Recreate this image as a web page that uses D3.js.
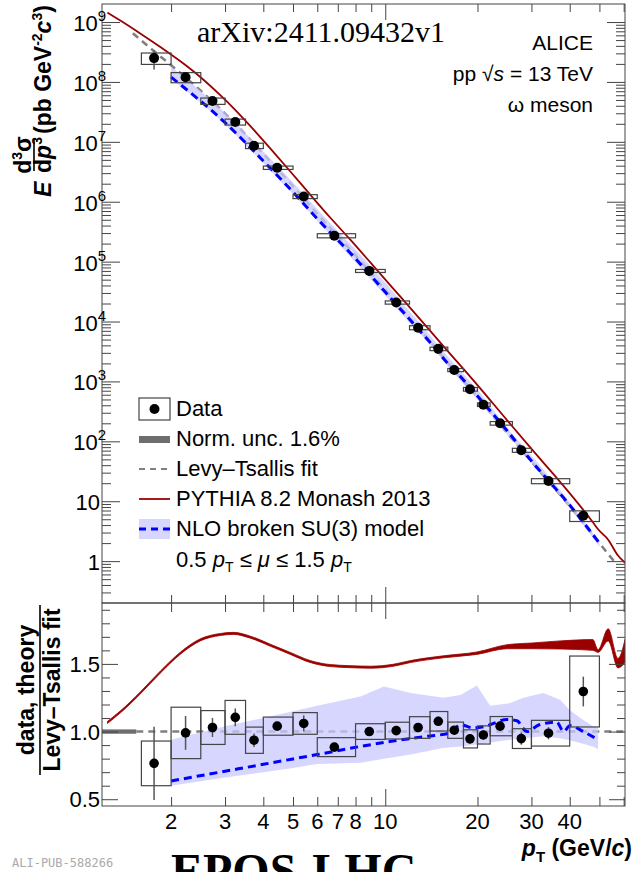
<!DOCTYPE html>
<html lang="en">
<head>
<meta charset="UTF-8">
<title>omega meson spectrum, pp 13 TeV</title>
<script src="https://d3js.org/d3.v7.min.js"></script>
<style>
  body { margin: 0; background: #fff; }
  svg { display: block; font-family: "Liberation Sans", Arial, sans-serif; }
  .axis line { stroke: #444; }
  .axis .domain { display: none; }
</style>
</head>
<body>
<svg width="633" height="872"></svg>
<script>
// ---- data: omega spectrum ----
const ptData    = [1.76, 2.23, 2.73, 3.24, 3.73, 4.44, 5.42, 6.82, 8.87, 10.86, 12.8, 14.9, 16.8, 18.9, 20.9, 23.7, 27.8, 34.1, 44.3];
const binLo     = [1.6, 2, 2.5, 3, 3.5, 4, 5, 6, 8, 10, 12, 14, 16, 18, 20, 22, 26, 30, 40];
const binHi     = [2, 2.5, 3, 3.5, 4, 5, 6, 8, 10, 12, 14, 16, 18, 20, 22, 26, 30, 40, 50];
const yieldVal  = [2.5e8, 1.2e8, 4.8e7, 2.15e7, 8.6e6, 3.7e6, 1.22e6, 2.71e5, 7.0e4, 2.08e4, 7.9e3, 3.5e3, 1.55e3, 7.4e2, 4.1e2, 2.0e2, 71, 21.7, 5.75];
const ratioVal  = [0.765, 0.99, 1.03, 1.105, 0.936, 1.04, 1.06, 0.885, 1.0, 1.007, 1.03, 1.076, 1.01, 0.946, 0.975, 1.04, 0.948, 0.988, 1.296];
const ratioSys  = [0.165, 0.19, 0.125, 0.125, 0.097, 0.067, 0.08, 0.07, 0.058, 0.062, 0.08, 0.072, 0.06, 0.067, 0.067, 0.071, 0.073, 0.095, 0.262];
const ratioStat = [0.27, 0.125, 0.07, 0.066, 0.05, 0.03, 0.06, 0.025, 0.02, 0.025, 0.03, 0.035, 0.025, 0.035, 0.035, 0.035, 0.045, 0.045, 0.11];

// Levy-Tsallis fit
const fitPt  = [1.5, 1.76, 2, 2.5, 3, 3.5, 4, 5, 6, 8, 10, 12, 14, 16, 18, 20, 25, 30, 40, 50, 57];
const fitVal = [6.5e8, 3.25e8, 1.9e8, 7.1e7, 2.95e7, 1.32e7, 6.3e6, 1.82e6, 6.3e5, 1.26e5, 3.4e4, 1.15e4, 4.7e3, 2.05e3, 1.02e3, 5.5e2, 1.38e2, 46, 8.3, 2.0, 0.87];

// PYTHIA 8.2 Monash 2013
const pyPt      = [1.24, 1.37, 1.59, 1.85, 2.14, 2.49, 2.90, 3.19, 3.63, 4.22, 4.90, 5.69, 6.62, 7.69, 8.94, 10.6, 12.1, 15.5, 19.9, 25.0, 30.3, 37.2, 47.6, 49.5, 53.4, 57.5, 60.6];
const pyVal     = [1.44e9, 1.05e9, 6.4e8, 3.8e8, 2.23e8, 1.21e8, 5.96e7, 3.7e7, 1.83e7, 7.7e6, 3.2e6, 1.31e6, 5.4e5, 2.33e5, 9.7e4, 3.58e4, 1.66e4, 3.86e3, 8.95e2, 2.24e2, 70.5, 21.1, 4.46, 3.4, 2.28, 1.24, 0.94];
const pyRatioLo = [1.06, 1.14, 1.28, 1.435, 1.57, 1.67, 1.71, 1.718, 1.69, 1.63, 1.57, 1.51, 1.48, 1.472, 1.468, 1.482, 1.51, 1.545, 1.57, 1.612, 1.612, 1.61, 1.60, 1.585, 1.67, 1.47, 1.51];
const pyRatioHi = [1.075, 1.155, 1.295, 1.45, 1.585, 1.685, 1.725, 1.733, 1.705, 1.645, 1.585, 1.525, 1.495, 1.487, 1.483, 1.497, 1.525, 1.56, 1.588, 1.642, 1.655, 1.67, 1.68, 1.605, 1.76, 1.54, 1.68];

// NLO broken SU(3), spectrum panel
const nloPt  = [2, 3, 4, 5, 6, 8, 10, 12, 14, 16, 18, 20, 25, 30, 40, 50];
const nloVal = [1.2e8, 2.09e7, 4.8e6, 1.45e6, 5.2e5, 1.12e5, 3.1e4, 1.09e4, 4.5e3, 2.0e3, 1.06e3, 5.7e2, 150, 47, 8.6, 2.0];
const nloLo  = [1.14e8, 1.95e7, 4.4e6, 1.33e6, 4.8e5, 9.7e4, 2.72e4, 9.5e3, 4.1e3, 1.8e3, 9.1e2, 5.0e2, 130, 44, 7.8, 1.74];
const nloHi  = [1.79e8, 3.07e7, 6.9e6, 2.09e6, 7.5e5, 1.59e5, 4.5e4, 1.48e4, 5.9e3, 2.6e3, 1.33e3, 7.3e2, 167, 58, 9.6, 2.06];

// NLO broken SU(3), ratio panel
const nloRPt    = [2.0, 3.0, 4.0, 5.0, 6.0, 8.3, 10.6, 13.7, 16.3, 17.6, 19.4, 21.3, 25.0, 26.9, 29.0, 31.8, 36.3, 38.2, 40.1, 44.3, 49.5];
const nloRatio  = [0.635, 0.707, 0.758, 0.798, 0.83, 0.89, 0.93, 0.965, 0.99, 1.05, 1.027, 1.04, 1.09, 1.08, 1.0, 1.05, 1.07, 1.0, 1.044, 1.0, 0.94];
const nloBandPt = [2.0, 3.0, 4.0, 5.0, 6.0, 8.3, 9.9, 12.1, 15.5, 17.6, 19.9, 22.0, 25.5, 28.2, 32.8, 37.2, 40, 43.3, 47.6, 49.5];
const nloBandLo = [0.60, 0.66, 0.70, 0.73, 0.76, 0.77, 0.80, 0.83, 0.88, 0.89, 0.905, 0.92, 0.94, 0.95, 0.965, 0.95, 0.935, 0.915, 0.89, 0.87];
const nloBandHi = [0.94, 1.04, 1.10, 1.15, 1.19, 1.26, 1.333, 1.285, 1.25, 1.27, 1.34, 1.19, 1.21, 1.25, 1.285, 1.235, 1.16, 1.10, 1.04, 1.03];

const normUnc = 0.016;
const normSpan = [1.19, 1.54];
const refSpan = [1.54, 60.6];

const xTickLabels = [2, 3, 4, 5, 6, 7, 8, 10, 20, 30, 40];
const xMinor = [2, 3, 4, 5, 6, 7, 8, 9, 20, 30, 40, 50, 60];
const xMajor = [10];
const yTopMajor = [1, 1e1, 1e2, 1e3, 1e4, 1e5, 1e6, 1e7, 1e8, 1e9];
const yBotMajor = [0.5, 1.0, 1.5];
const yBotMinor = [0.6, 0.7, 0.8, 0.9, 1.1, 1.2, 1.3, 1.4, 1.6, 1.7, 1.8, 1.9];

// ---- layout ----
const L = 102, R = 625, T = 4, M = 603, B = 806;
const svg = d3.select('svg');

const x = d3.scaleLog().domain([1.19, 60.6]).range([L, R]);
const yTop = d3.scaleLog().domain([0.2, 2e9]).range([M, T]);
const yBot = d3.scaleLinear().domain([0.45, 1.95]).range([B, M]);

const yTopMinor = [];
for (let k = -1; k <= 9; k++) for (let m = 2; m <= 9; m++) {
  const v = m * Math.pow(10, k);
  if (v > 0.2 && v < 2e9) yTopMinor.push(v);
}

const defs = svg.append('defs');
defs.append('clipPath').attr('id', 'clipTop').append('rect')
  .attr('x', L).attr('y', T).attr('width', R - L).attr('height', M - T);
defs.append('clipPath').attr('id', 'clipBot').append('rect')
  .attr('x', L).attr('y', M).attr('width', R - L).attr('height', B - M);

const pts = ptData.map((p, i) => ({
  p, lo: binLo[i], hi: binHi[i], y: yieldVal[i],
  r: ratioVal[i], sys: ratioSys[i], st: ratioStat[i]
}));

const RED = '#9b0000', BLUE = '#0000ff', BAND = '#c8c8ff', GREY = '#808080';

// ================= top panel =================
const gTop = svg.append('g').attr('clip-path', 'url(#clipTop)');

const lineTop = d3.line().x(d => x(d[0])).y(d => yTop(d[1])).curve(d3.curveMonotoneX);

gTop.append('path')
  .attr('d', lineTop(d3.zip(fitPt, fitVal)))
  .attr('fill', 'none').attr('stroke', GREY).attr('stroke-width', 2.6)
  .attr('stroke-dasharray', '7,5');

gTop.append('path')
  .attr('d', d3.area().x(d => x(d[0])).y0(d => yTop(d[1])).y1(d => yTop(d[2]))
    .curve(d3.curveMonotoneX)(d3.zip(nloPt, nloLo, nloHi)))
  .attr('fill', BAND).attr('fill-opacity', 0.75);

gTop.append('path')
  .attr('d', lineTop(d3.zip(nloPt, nloVal)))
  .attr('fill', 'none').attr('stroke', BLUE).attr('stroke-width', 3)
  .attr('stroke-dasharray', '8,5');

gTop.append('path')
  .attr('d', lineTop(d3.zip(pyPt, pyVal)))
  .attr('fill', 'none').attr('stroke', RED).attr('stroke-width', 1.8);

gTop.selectAll('rect.sys').data(pts).join('rect').attr('class', 'sys')
  .attr('x', d => x(d.lo)).attr('width', d => x(d.hi) - x(d.lo))
  .attr('y', d => yTop(d.y * (1 + d.sys / d.r)))
  .attr('height', d => yTop(d.y * (1 - d.sys / d.r)) - yTop(d.y * (1 + d.sys / d.r)))
  .attr('fill', 'none').attr('stroke', '#444').attr('stroke-width', 1.2);

gTop.selectAll('line.stat').data(pts).join('line').attr('class', 'stat')
  .attr('x1', d => x(d.p)).attr('x2', d => x(d.p))
  .attr('y1', d => yTop(d.y * (1 + d.st / d.r))).attr('y2', d => yTop(d.y * (1 - d.st / d.r)))
  .attr('stroke', '#555').attr('stroke-width', 1.5);

gTop.selectAll('circle').data(pts).join('circle')
  .attr('cx', d => x(d.p)).attr('cy', d => yTop(d.y)).attr('r', 5)
  .attr('fill', '#000');

// ================= ratio panel =================
const gBot = svg.append('g').attr('clip-path', 'url(#clipBot)');
const lineBot = d3.line().x(d => x(d[0])).y(d => yBot(d[1])).curve(d3.curveMonotoneX);

gBot.append('rect')
  .attr('x', x(normSpan[0])).attr('width', x(normSpan[1]) - x(normSpan[0]))
  .attr('y', yBot(1 + normUnc)).attr('height', yBot(1 - normUnc) - yBot(1 + normUnc))
  .attr('fill', '#6e6e6e');

gBot.append('line')
  .attr('x1', x(refSpan[0])).attr('x2', x(refSpan[1]))
  .attr('y1', yBot(1)).attr('y2', yBot(1))
  .attr('stroke', GREY).attr('stroke-width', 2.4).attr('stroke-dasharray', '7,5');

gBot.append('path')
  .attr('d', d3.area().x(d => x(d[0])).y0(d => yBot(d[1])).y1(d => yBot(d[2]))
    .curve(d3.curveLinear)(d3.zip(nloBandPt, nloBandLo, nloBandHi)))
  .attr('fill', BAND).attr('fill-opacity', 0.75);

gBot.append('path')
  .attr('d', lineBot(d3.zip(nloRPt, nloRatio)))
  .attr('fill', 'none').attr('stroke', BLUE).attr('stroke-width', 3)
  .attr('stroke-dasharray', '8,5');

gBot.append('path')
  .attr('d', d3.area().x(d => x(d[0])).y0(d => yBot(d[1])).y1(d => yBot(d[2]))
    .curve(d3.curveMonotoneX)(d3.zip(pyPt, pyRatioLo, pyRatioHi)))
  .attr('fill', RED).attr('stroke', RED).attr('stroke-width', 0.8);

gBot.selectAll('rect.sys').data(pts).join('rect').attr('class', 'sys')
  .attr('x', d => x(d.lo)).attr('width', d => x(d.hi) - x(d.lo))
  .attr('y', d => yBot(d.r + d.sys)).attr('height', d => yBot(d.r - d.sys) - yBot(d.r + d.sys))
  .attr('fill', 'none').attr('stroke', '#444').attr('stroke-width', 1.2);

gBot.selectAll('line.stat').data(pts).join('line').attr('class', 'stat')
  .attr('x1', d => x(d.p)).attr('x2', d => x(d.p))
  .attr('y1', d => yBot(d.r + d.st)).attr('y2', d => yBot(d.r - d.st))
  .attr('stroke', '#555').attr('stroke-width', 1.5);

gBot.selectAll('circle').data(pts).join('circle')
  .attr('cx', d => x(d.p)).attr('cy', d => yBot(d.r)).attr('r', 4.8)
  .attr('fill', '#000');

// ================= axes =================
function addAxis(axis, tx, ty) {
  svg.append('g').attr('class', 'axis').attr('transform', `translate(${tx},${ty})`)
    .call(axis.tickSizeOuter(0).tickFormat(''));
}
// x axes
addAxis(d3.axisTop(x).tickValues(xMajor).tickSize(-16), 0, T);
addAxis(d3.axisTop(x).tickValues(xMinor).tickSize(-8), 0, T);
addAxis(d3.axisBottom(x).tickValues(xMajor).tickSize(-16), 0, M);
addAxis(d3.axisBottom(x).tickValues(xMinor).tickSize(-8), 0, M);
addAxis(d3.axisTop(x).tickValues(xMajor).tickSize(-16), 0, M);
addAxis(d3.axisTop(x).tickValues(xMinor).tickSize(-9), 0, M);
addAxis(d3.axisBottom(x).tickValues(xMajor).tickSize(-17), 0, B);
addAxis(d3.axisBottom(x).tickValues(xMinor).tickSize(-9), 0, B);
// y axes, top panel
addAxis(d3.axisLeft(yTop).tickValues(yTopMajor).tickSize(-18), L, 0);
addAxis(d3.axisLeft(yTop).tickValues(yTopMinor).tickSize(-9), L, 0);
addAxis(d3.axisRight(yTop).tickValues(yTopMajor).tickSize(-18), R, 0);
addAxis(d3.axisRight(yTop).tickValues(yTopMinor).tickSize(-9), R, 0);
// y axes, ratio panel
addAxis(d3.axisLeft(yBot).tickValues(yBotMajor).tickSize(-16), L, 0);
addAxis(d3.axisLeft(yBot).tickValues(yBotMinor).tickSize(-8), L, 0);
addAxis(d3.axisRight(yBot).tickValues(yBotMajor).tickSize(-16), R, 0);
addAxis(d3.axisRight(yBot).tickValues(yBotMinor).tickSize(-8), R, 0);

// frames
svg.append('rect').attr('x', L).attr('y', T).attr('width', R - L).attr('height', M - T)
  .attr('fill', 'none').attr('stroke', '#444');
svg.append('rect').attr('x', L).attr('y', M).attr('width', R - L).attr('height', B - M)
  .attr('fill', 'none').attr('stroke', '#444');

// tick labels
const FS = 22;
svg.append('g').selectAll('text').data(xTickLabels).join('text')
  .attr('x', d => x(d)).attr('y', 829).attr('text-anchor', 'middle')
  .attr('font-size', FS).text(d => d);

const yLab = svg.append('g').selectAll('text').data(yTopMajor).join('text')
  .attr('x', d => d < 100 ? 100 : 106).attr('y', d => yTop(d) + 9)
  .attr('text-anchor', 'end').attr('font-size', FS);
yLab.each(function(d) {
  const t = d3.select(this);
  const e = Math.round(Math.log10(d));
  if (e <= 1) { t.text(d); return; }
  t.append('tspan').text('10');
  t.append('tspan').attr('font-size', 15).attr('dy', -10).text(e);
});

svg.append('g').selectAll('text').data(yBotMajor).join('text')
  .attr('x', 100).attr('y', d => yBot(d) + 8).attr('text-anchor', 'end')
  .attr('font-size', FS).text(d => d.toFixed(1));

// axis titles
const yt = svg.append('g').attr('transform', 'translate(51,197) rotate(-90)')
  .attr('font-size', 23).attr('font-weight', 'bold');
yt.append('text').attr('x', 0).attr('y', 0).attr('font-style', 'italic').text('E');
const num = yt.append('text').attr('x', 42).attr('y', -20).attr('text-anchor', 'middle');
num.append('tspan').text('d');
num.append('tspan').attr('font-size', 14).attr('dy', -9).text('3');
num.append('tspan').attr('dy', 9).text('σ');
yt.append('line').attr('x1', 26).attr('x2', 58).attr('y1', -17).attr('y2', -17)
  .attr('stroke', '#000').attr('stroke-width', 1.6);
const den = yt.append('text').attr('x', 42).attr('y', 0).attr('text-anchor', 'middle');
den.append('tspan').text('d');
den.append('tspan').attr('font-style', 'italic').text('p');
den.append('tspan').attr('font-size', 14).attr('dy', -9).text('3');
const unit = yt.append('text').attr('x', 63).attr('y', 0);
unit.append('tspan').text('(pb GeV');
unit.append('tspan').attr('font-size', 14).attr('dy', -9).text('-2');
unit.append('tspan').attr('dy', 9).attr('font-style', 'italic').text('c');
unit.append('tspan').attr('font-size', 14).attr('dy', -9).text('3');
unit.append('tspan').attr('dy', 9).text(')');

const rt = svg.append('g').attr('transform', 'translate(0,690) rotate(-90)')
  .attr('font-size', 23).attr('font-weight', 'bold').attr('text-anchor', 'middle');
rt.append('text').attr('x', 0).attr('y', 34).text('data, theory');
rt.append('line').attr('x1', -85).attr('x2', 85).attr('y1', 40).attr('y2', 40)
  .attr('stroke', '#000').attr('stroke-width', 1.6);
rt.append('text').attr('x', 0).attr('y', 60).text('Levy–Tsallis fit');

const xt = svg.append('text').attr('x', 632).attr('y', 856).attr('text-anchor', 'end')
  .attr('font-size', 23).attr('font-weight', 'bold');
xt.append('tspan').attr('font-style', 'italic').text('p');
xt.append('tspan').attr('font-size', 15).attr('dy', 6).text('T');
xt.append('tspan').attr('dy', -6).text(' (GeV/');
xt.append('tspan').attr('font-style', 'italic').text('c');
xt.append('tspan').text(')');

// system labels
const sys = svg.append('g').attr('font-size', 21).attr('text-anchor', 'end');
sys.append('text').attr('x', 593).attr('y', 50).text('ALICE');
const pp = sys.append('text').attr('x', 593).attr('y', 81);
pp.append('tspan').text('pp  √');
pp.append('tspan').attr('font-style', 'italic').text('s');
pp.append('tspan').text(' = 13 TeV');
sys.append('text').attr('x', 593).attr('y', 112).text('ω meson');

// legend
const lg = svg.append('g');
const lx = 139, lw = 31, tx = 176;
lg.append('rect').attr('x', lx).attr('y', 398).attr('width', lw).attr('height', 22)
  .attr('fill', 'none').attr('stroke', '#444').attr('stroke-width', 1.2);
lg.append('circle').attr('cx', lx + lw / 2).attr('cy', 409).attr('r', 5).attr('fill', '#000');
lg.append('rect').attr('x', lx).attr('y', 436).attr('width', lw).attr('height', 7).attr('fill', '#6e6e6e');
lg.append('line').attr('x1', lx).attr('x2', lx + lw).attr('y1', 469).attr('y2', 469)
  .attr('stroke', GREY).attr('stroke-width', 2.2).attr('stroke-dasharray', '6,5');
lg.append('line').attr('x1', lx).attr('x2', lx + lw).attr('y1', 499).attr('y2', 499)
  .attr('stroke', RED).attr('stroke-width', 1.8);
lg.append('rect').attr('x', lx).attr('y', 519).attr('width', lw).attr('height', 20)
  .attr('fill', BAND).attr('fill-opacity', 0.75);
lg.append('line').attr('x1', lx).attr('x2', lx + lw).attr('y1', 529).attr('y2', 529)
  .attr('stroke', BLUE).attr('stroke-width', 3).attr('stroke-dasharray', '7,5');
const lt = lg.append('g').attr('font-size', FS);
lt.append('text').attr('x', tx).attr('y', 416).text('Data');
lt.append('text').attr('x', tx).attr('y', 446).text('Norm. unc. 1.6%');
lt.append('text').attr('x', tx).attr('y', 476).text('Levy–Tsallis fit');
lt.append('text').attr('x', tx).attr('y', 506).text('PYTHIA 8.2 Monash 2013');
lt.append('text').attr('x', tx).attr('y', 536).text('NLO broken SU(3) model');
const sc = lt.append('text').attr('x', tx).attr('y', 567);
sc.append('tspan').text('0.5 ');
sc.append('tspan').attr('font-style', 'italic').text('p');
sc.append('tspan').attr('font-size', 14).attr('dy', 5).text('T');
sc.append('tspan').attr('dy', -5).text(' ≤ ');
sc.append('tspan').attr('font-style', 'italic').text('μ');
sc.append('tspan').text(' ≤ 1.5 ');
sc.append('tspan').attr('font-style', 'italic').text('p');
sc.append('tspan').attr('font-size', 14).attr('dy', 5).text('T');

// overlays
svg.append('text').attr('x', 197).attr('y', 42)
  .attr('font-family', '"Liberation Serif", "Times New Roman", serif').attr('font-size', 30)
  .text('arXiv:2411.09432v1');
svg.append('text').attr('x', 12).attr('y', 867)
  .attr('font-family', '"DejaVu Sans Mono", monospace').attr('font-size', 12).attr('fill', '#aaa')
  .text('ALI-PUB-588266');
svg.append('text').attr('x', 171).attr('y', 887)
  .attr('font-family', '"Liberation Serif", "Times New Roman", serif').attr('font-size', 48)
  .attr('font-weight', 'bold').text('EPOS-LHC');
</script>
</body>
</html>
